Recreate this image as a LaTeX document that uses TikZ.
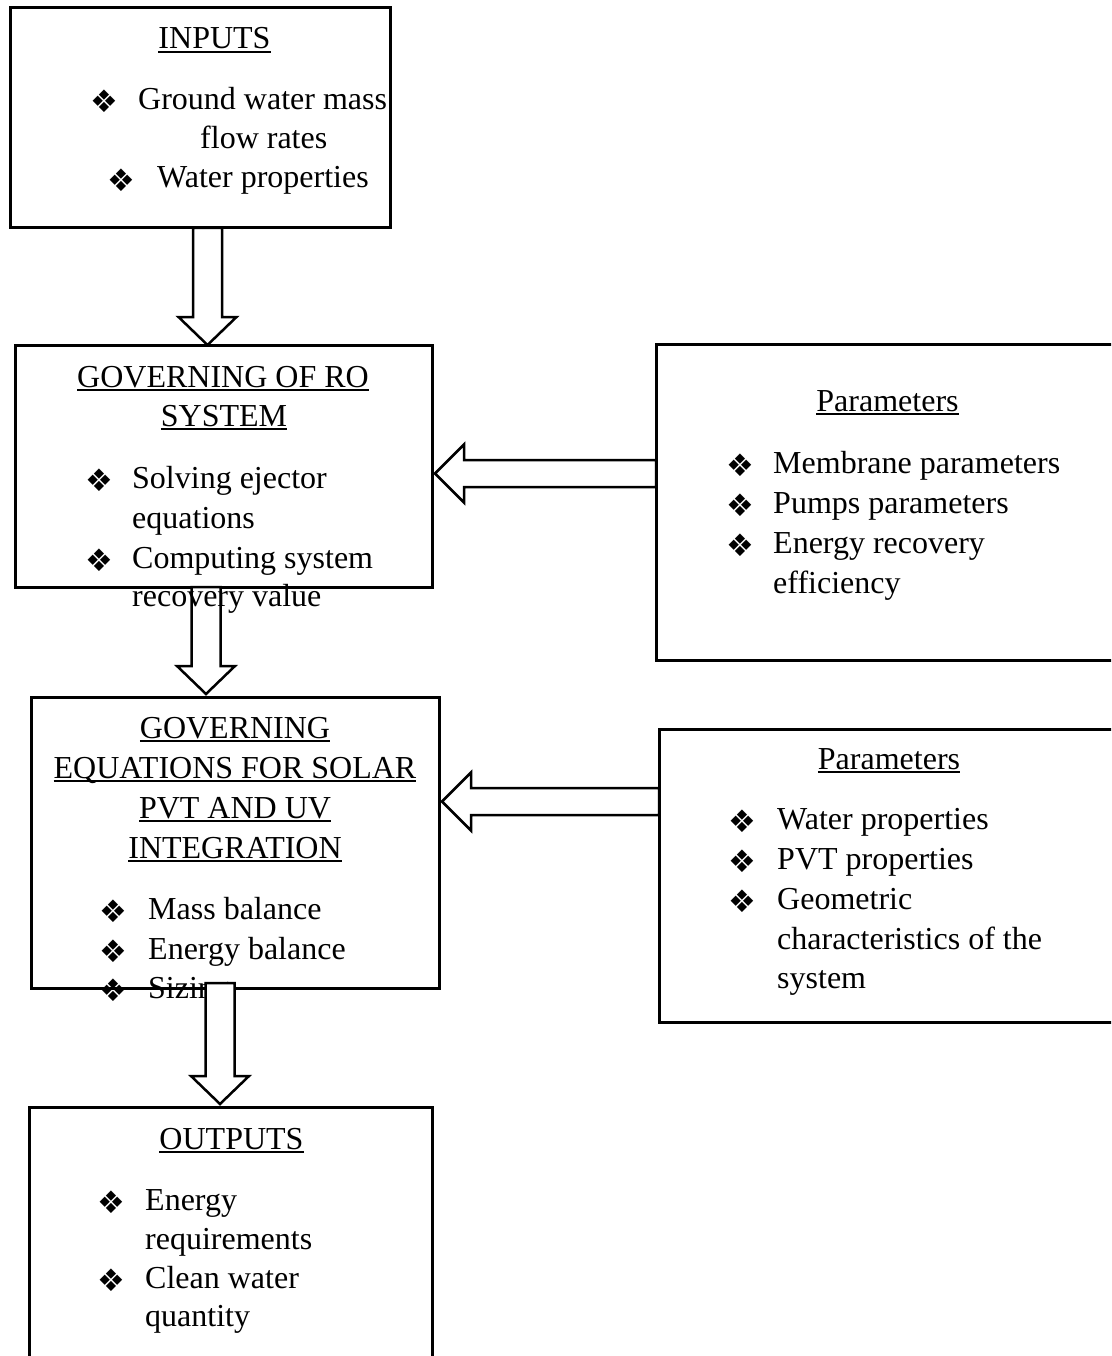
\documentclass[tikz,border=0pt]{standalone}
\usepackage{fontspec}
\setmainfont{Liberation Serif}
\newfontfamily\bulletfont{DejaVu Sans}
\usetikzlibrary{calc}
\newcommand\myul[1]{\setbox0\hbox{#1}\rlap{\vrule height -2pt depth 4pt width \wd0}\box0}
\newcommand\vblock[2]{\draw[blk] ($(#1)+(-14.5,0)$) -- ($(#2)+(-14.5,-28)$) -- ($(#2)+(-29,-28)$) -- (#2) -- ($(#2)+(29,-28)$) -- ($(#2)+(14.5,-28)$) -- ($(#1)+(14.5,0)$) -- cycle;}
\newcommand\hblock[2]{\draw[blk] ($(#1)+(0,-13.5)$) -- ($(#2)+(29,-13.5)$) -- ($(#2)+(29,-29)$) -- (#2) -- ($(#2)+(29,29)$) -- ($(#2)+(29,13.5)$) -- ($(#1)+(0,13.5)$) -- cycle;}
\begin{document}
\begin{tikzpicture}[x=1pt,y=-1pt,
  box/.style={draw, line width=3pt, inner sep=0pt, outer sep=0pt, anchor=north west},
  txt/.style={inner sep=0pt, anchor=base west, font=\fontsize{32}{40}\selectfont},
  ttl/.style={inner sep=0pt, anchor=base, font=\fontsize{32}{40}\selectfont},
  bul/.style={inner sep=0pt, anchor=center, font=\bulletfont\fontsize{31}{31}\selectfont},
  blk/.style={draw, line width=2.5pt, fill=white, line join=miter}]
\useasboundingbox (0,0) rectangle (1111,1356);
\clip (0,0) rectangle (1111,1356);
% boxes
\node[box, minimum width=380pt, minimum height=220pt] (in) at (10,8) {};
\node[box, minimum width=417pt, minimum height=242pt] (ro) at (15,345) {};
\node[box, minimum width=470pt, minimum height=316pt] (p1) at (656,344) {};
\node[box, minimum width=408pt, minimum height=291pt] (gov) at (31,697) {};
\node[box, minimum width=470pt, minimum height=293pt] (p2) at (659,729) {};
\node[box, minimum width=403pt, minimum height=300pt] (out) at (29,1107) {};
% arrow anchor coordinates
\coordinate (a1s) at (207.5,228);
\coordinate (a1t) at (a1s |- ro.north);
\coordinate (a2s) at (206,587);
\coordinate (a2t) at ($(a2s |- gov.north)+(0,-3)$);
\coordinate (a3s) at (220,983);
\coordinate (a3t) at ($(a3s |- out.north)+(0,-3)$);
\coordinate (h1y) at (0,473.5);
\coordinate (h1s) at (p1.west |- h1y);
\coordinate (h1t) at ($(ro.east |- h1y)+(3,0)$);
\coordinate (h2y) at (0,801.5);
\coordinate (h2s) at (p2.west |- h2y);
\coordinate (h2t) at ($(gov.east |- h2y)+(3,0)$);
\vblock{a1s}{a1t}
\vblock{a2s}{a2t}
\hblock{h1s}{h1t}
\hblock{h2s}{h2t}
% INPUTS
\node[ttl] (inT) at (214.5,49) {\myul{INPUTS}};
\node[bul] (inB1) at (104.5,101.5) {❖};
\node[txt] (inL1) at (138,110) {Ground water mass};
\node[txt] (inL2) at (200,149) {flow rates};
\node[bul] (inB2) at (121,180) {❖};
\node[txt] (inL3) at (157,188) {Water properties};
% RO
\node[ttl] (roT1) at (223,387) {\myul{GOVERNING OF RO}};
\node[ttl] (roT2) at (224,426) {\myul{SYSTEM}};
\node[bul] (roB1) at (99,480) {❖};
\node[txt] (roL1) at (132,488) {Solving ejector};
\node[txt] (roL2) at (132,528) {equations};
\node[bul] (roB2) at (99,560) {❖};
\node[txt] (roL3) at (132,568) {Computing system};
\node[txt] (roL4) at (132,606) {recovery value};
% Parameters 1
\node[ttl] (p1T) at (887.5,411) {\myul{Parameters}};
\node[bul] (p1B1) at (740,465) {❖};
\node[txt] (p1L1) at (773,473) {Membrane parameters};
\node[bul] (p1B2) at (740,505) {❖};
\node[txt] (p1L2) at (773,513) {Pumps parameters};
\node[bul] (p1B3) at (740,545) {❖};
\node[txt] (p1L3) at (773,553) {Energy recovery};
\node[txt] (p1L4) at (773,593) {efficiency};
% Governing equations
\node[ttl] (govT1) at (235,738) {\myul{GOVERNING}};
\node[ttl] (govT2) at (235,778) {\myul{EQUATIONS FOR SOLAR}};
\node[ttl] (govT3) at (235,818) {\myul{PVT AND UV}};
\node[ttl] (govT4) at (235,858) {\myul{INTEGRATION}};
\node[bul] (govB1) at (113.5,911) {❖};
\node[txt] (govL1) at (148,919) {Mass balance};
\node[bul] (govB2) at (113.5,951) {❖};
\node[txt] (govL2) at (148,959) {Energy balance};
\node[bul] (govB3) at (113.5,990) {❖};
\node[txt] (govL3) at (148,998) {Sizing};
% Parameters 2
\node[ttl] (p2T) at (889,769) {\myul{Parameters}};
\node[bul] (p2B1) at (742.5,821) {❖};
\node[txt] (p2L1) at (777,829) {Water properties};
\node[bul] (p2B2) at (742.5,861) {❖};
\node[txt] (p2L2) at (777,869) {PVT properties};
\node[bul] (p2B3) at (742.5,901) {❖};
\node[txt] (p2L3) at (777,909) {Geometric};
\node[txt] (p2L4) at (777,949) {characteristics of the};
\node[txt] (p2L5) at (777,988) {system};
% OUTPUTS
\node[ttl] (outT) at (231.5,1149) {\myul{OUTPUTS}};
\node[bul] (outB1) at (111,1202) {❖};
\node[txt] (outL1) at (145,1210) {Energy};
\node[txt] (outL2) at (145,1249) {requirements};
\node[bul] (outB2) at (111,1280) {❖};
\node[txt] (outL3) at (145,1288) {Clean water};
\node[txt] (outL4) at (145,1326) {quantity};
% last arrow on top
\vblock{a3s}{a3t}
\end{tikzpicture}
\end{document}
